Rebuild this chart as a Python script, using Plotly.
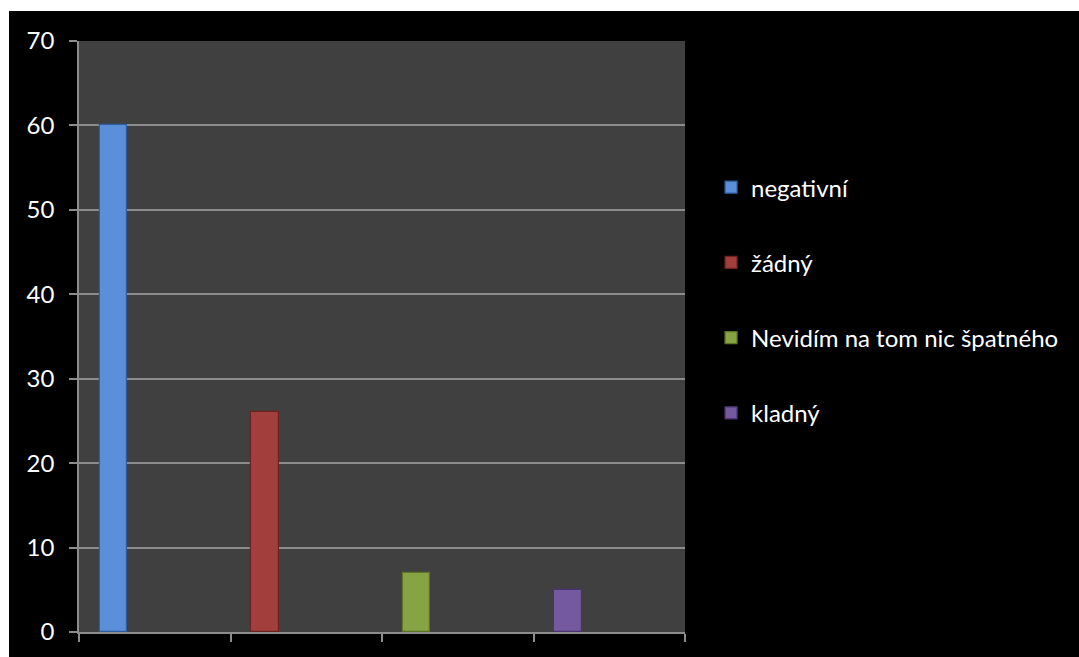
import plotly.graph_objects as go

# Survey answers and counts
categories = ["negativní", "žádný", "Nevidím na tom nic špatného", "kladný"]
values = [60, 26, 7, 5]
colors = ["#5B8FD9", "#A23F3D", "#86A443", "#7458A0"]
edge_colors = ["#2F5E9E", "#6E2220", "#5A7422", "#4A3470"]

y_ticks = [0, 10, 20, 30, 40, 50, 60, 70]

FONT = "Lato"

fig = go.Figure()

# one trace per answer, each sitting in its own slot on the category axis
for i, (name, val, col, edge) in enumerate(zip(categories, values, colors, edge_colors)):
    fig.add_trace(go.Bar(
        x=[i + 0.5],
        y=[val],
        name=name,
        legendgroup=name,
        marker=dict(color=col, line=dict(color=edge, width=1.2)),
        width=1 / 5.5,
        offset=-0.5 + 0.75 / 5.5,
    ))

fig.update_layout(
    width=1079,
    height=657,
    paper_bgcolor="#000000",
    plot_bgcolor="#404040",
    margin=dict(l=79, r=394, t=41, b=25),
    font=dict(family=FONT, color="#ffffff", size=24),
    showlegend=True,
    legend=dict(
        x=1.043, xanchor="left",
        y=0.79, yanchor="top",
        bgcolor="rgba(0,0,0,0)",
        font=dict(family=FONT, size=24, color="#ffffff"),
        tracegroupgap=41,
        itemclick=False,
    ),
    bargap=0,
    shapes=[
        # white frame strips along the left and top edges
        dict(type="rect", xref="paper", yref="paper",
             x0=-0.14, x1=-0.1155, y0=-0.1, y1=1.1,
             fillcolor="#ffffff", line_width=0, layer="below"),
        dict(type="rect", xref="paper", yref="paper",
             x0=-0.14, x1=1.7, y0=1.0509, y1=1.1,
             fillcolor="#ffffff", line_width=0, layer="below"),
    ],
)

fig.update_xaxes(
    range=[0, 4],
    tickmode="array",
    tickvals=[0, 1, 2, 3, 4],
    ticktext=["", "", "", "", ""],
    ticks="outside",
    ticklen=8,
    tickcolor="#8C8C8C",
    tickwidth=1.5,
    showline=True,
    linecolor="#8C8C8C",
    linewidth=1.5,
    showgrid=False,
    zeroline=False,
    fixedrange=True,
)

fig.update_yaxes(
    range=[0, 70],
    tickmode="array",
    tickvals=y_ticks,
    ticktext=[str(v) for v in y_ticks],
    ticks="outside",
    ticklen=8,
    tickcolor="#8C8C8C",
    tickwidth=1.5,
    ticklabelstandoff=10,
    tickfont=dict(family=FONT, size=24, color="#ffffff"),
    showline=True,
    linecolor="#8C8C8C",
    linewidth=1.5,
    showgrid=True,
    gridcolor="#8C8C8C",
    gridwidth=1.5,
    zeroline=False,
    fixedrange=True,
)

fig.write_html("out.html")
